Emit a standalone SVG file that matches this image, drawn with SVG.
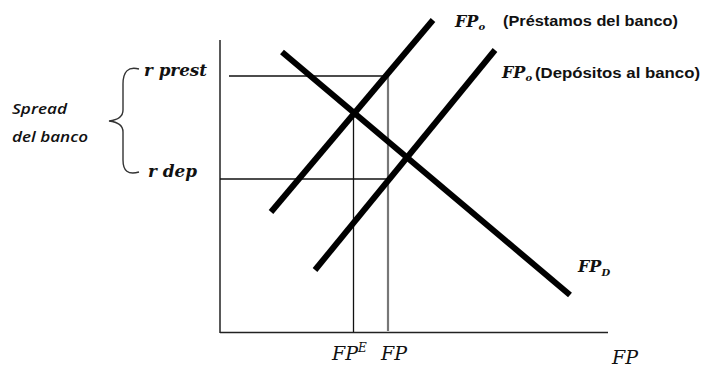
<svg xmlns="http://www.w3.org/2000/svg" width="704" height="369" viewBox="0 0 704 369">
<style>
.axis{stroke:#222;stroke-width:1.5;fill:none}
.thin{stroke:#111;stroke-width:1.3;fill:none}
.gray{stroke:#777;stroke-width:2.2;fill:none}
.curve{stroke:#000;stroke-width:6;fill:none;stroke-linecap:butt}
.math{font-family:"DejaVu Serif","Liberation Serif",serif;font-style:italic;fill:#111}
.mb{font-weight:bold}
.lab{font-family:"Liberation Sans","Open Sans",sans-serif;font-weight:bold;font-size:14px;fill:#111}
.side{font-family:"Open Sans","Liberation Sans",sans-serif;font-style:italic;font-weight:600;font-size:15px;fill:#111}
</style>
<rect width="704" height="369" fill="#fff"/>
<g id="axes">
<line class="axis" x1="220" y1="40" x2="220" y2="333"/>
<line class="axis" x1="220" y1="332.5" x2="608" y2="332.5"/>
</g>
<g id="guides">
<line class="thin" x1="229" y1="76" x2="388" y2="76"/>
<line class="thin" x1="220" y1="179" x2="389" y2="179"/>
<line class="thin" x1="353.5" y1="112" x2="353.5" y2="332"/>
<line class="gray" x1="388" y1="76" x2="388" y2="331"/>
</g>
<g id="connectors">
<line id="supply-prestamos" class="curve" x1="271" y1="212" x2="433" y2="20"/>
<line id="supply-depositos" class="curve" x1="315" y1="270" x2="495" y2="50"/>
<line id="demand" class="curve" x1="282" y1="52" x2="570" y2="295"/>
</g>
<g id="label-fpo-prest">
<text class="math mb" x="455" y="27" font-size="16">FP<tspan font-size="10" dy="3">o</tspan></text>
<text class="lab" x="503" y="26" textLength="175" lengthAdjust="spacingAndGlyphs">(Préstamos del banco)</text>
</g>
<g id="label-fpo-dep">
<text class="math mb" x="502" y="78" font-size="16">FP<tspan font-size="10" dy="3">o</tspan></text>
<text class="lab" x="535" y="78" textLength="165" lengthAdjust="spacingAndGlyphs">(Depósitos al banco)</text>
</g>
<g id="label-fpd">
<text class="math mb" x="578" y="272" font-size="16">FP<tspan font-size="10" dy="4">D</tspan></text>
</g>
<g id="label-rprest">
<text class="math mb" x="144" y="76" font-size="16" textLength="63" lengthAdjust="spacingAndGlyphs">r prest</text>
</g>
<g id="label-rdep">
<text class="math mb" x="148" y="177" font-size="16" textLength="49" lengthAdjust="spacingAndGlyphs">r dep</text>
</g>
<g id="brace">
<path d="M139 69 C128 66,123 72,123 84 L123 110 C123 117,118 120,109 121 C118 122,123 125,123 132 L123 160 C123 171,128 175,139 172" fill="none" stroke="#333" stroke-width="1.4"/>
</g>
<g id="label-spread">
<text class="side" x="12" y="114" textLength="55" lengthAdjust="spacingAndGlyphs">Spread</text>
<text class="side" x="12" y="142" textLength="76" lengthAdjust="spacingAndGlyphs">del banco</text>
</g>
<g id="label-fpe">
<text class="math" x="332" y="360" font-size="19">FP<tspan font-size="12" dy="-8">E</tspan></text>
<text class="math" x="381" y="360" font-size="19">FP</text>
</g>
<g id="label-fp-axis">
<text class="math" x="612" y="364" font-size="19">FP</text>
</g>
</svg>
